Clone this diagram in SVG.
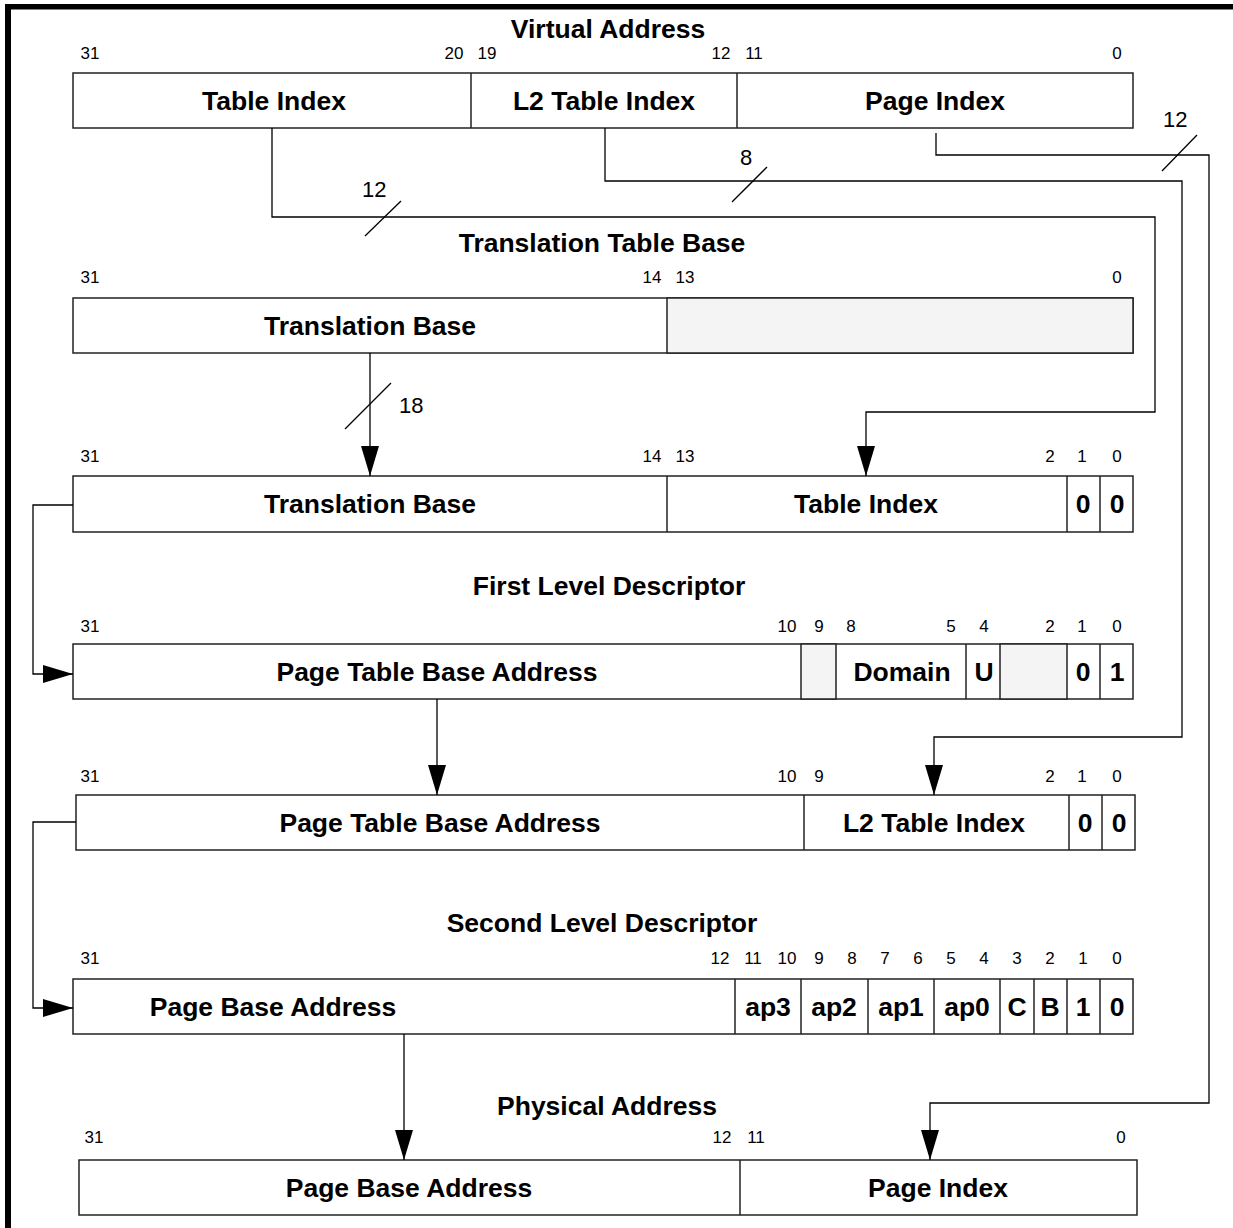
<svg xmlns="http://www.w3.org/2000/svg" width="1233" height="1228" viewBox="0 0 1233 1228">
<style>
.box{fill:#fff;stroke:#222;stroke-width:1.5}
.grey{fill:#f4f4f4;stroke:#222;stroke-width:1.5}
.div{stroke:#222;stroke-width:1.5}
.lbl{font-family:"Liberation Sans",Arial,sans-serif;font-weight:bold;font-size:26.5px;fill:#000;text-anchor:middle}
.ttl{font-family:"Liberation Sans",Arial,sans-serif;font-weight:bold;font-size:26.5px;fill:#000;text-anchor:middle}
.bit{font-family:"Liberation Sans",Arial,sans-serif;font-size:17px;fill:#000;text-anchor:middle}
.num{font-family:"Liberation Sans",Arial,sans-serif;font-size:22px;fill:#000}
.wire{fill:none;stroke:#000;stroke-width:1.3}
</style>
<defs>
<marker id="ah" markerUnits="userSpaceOnUse" markerWidth="30" markerHeight="18" viewBox="0 0 30 18" refX="30" refY="9" orient="auto">
<path d="M0,0 L30,9 L0,18 z" fill="#000"/>
</marker>
</defs>
<rect width="1233" height="1228" fill="#fff"/>
<rect x="5" y="4" width="1228" height="5.5" fill="#000"/>
<rect x="5" y="4" width="6" height="1224" fill="#000"/>

<g id="virtual-address">
<text class="ttl" x="608" y="38">Virtual Address</text>
<text class="bit" x="90" y="59">31</text>
<text class="bit" x="454" y="59">20</text>
<text class="bit" x="487" y="59">19</text>
<text class="bit" x="721" y="59">12</text>
<text class="bit" x="754" y="59">11</text>
<text class="bit" x="1117" y="59">0</text>
<rect class="box" x="73" y="73" width="1060" height="55"/>
<line class="div" x1="471" y1="73" x2="471" y2="128"/>
<line class="div" x1="737" y1="73" x2="737" y2="128"/>
<text class="lbl" x="274" y="110">Table Index</text>
<text class="lbl" x="604" y="110">L2 Table Index</text>
<text class="lbl" x="935" y="110">Page Index</text>
</g>

<g id="translation-table-base">
<text class="ttl" x="602" y="252">Translation Table Base</text>
<text class="bit" x="90" y="283">31</text>
<text class="bit" x="652" y="283">14</text>
<text class="bit" x="685" y="283">13</text>
<text class="bit" x="1117" y="283">0</text>
<rect class="box" x="73" y="298" width="1060" height="55"/>
<rect class="grey" x="667" y="298" width="466" height="55"/>
<text class="lbl" x="370" y="335">Translation Base</text>
</g>

<g id="first-level-address">
<text class="bit" x="90" y="462">31</text>
<text class="bit" x="652" y="462">14</text>
<text class="bit" x="685" y="462">13</text>
<text class="bit" x="1050" y="462">2</text>
<text class="bit" x="1082" y="462">1</text>
<text class="bit" x="1117" y="462">0</text>
<rect class="box" x="73" y="476" width="1060" height="56"/>
<line class="div" x1="667" y1="476" x2="667" y2="532"/>
<line class="div" x1="1067" y1="476" x2="1067" y2="532"/>
<line class="div" x1="1100" y1="476" x2="1100" y2="532"/>
<text class="lbl" x="370" y="513">Translation Base</text>
<text class="lbl" x="866" y="513">Table Index</text>
<text class="lbl" x="1083" y="513">0</text>
<text class="lbl" x="1117" y="513">0</text>
</g>

<g id="first-level-descriptor">
<text class="ttl" x="609" y="595">First Level Descriptor</text>
<text class="bit" x="90" y="632">31</text>
<text class="bit" x="787" y="632">10</text>
<text class="bit" x="819" y="632">9</text>
<text class="bit" x="851" y="632">8</text>
<text class="bit" x="951" y="632">5</text>
<text class="bit" x="984" y="632">4</text>
<text class="bit" x="1050" y="632">2</text>
<text class="bit" x="1082" y="632">1</text>
<text class="bit" x="1117" y="632">0</text>
<rect class="box" x="73" y="644" width="1060" height="55"/>
<rect class="grey" x="801" y="644" width="35" height="55"/>
<rect class="grey" x="1000" y="644" width="67" height="55"/>
<line class="div" x1="966" y1="644" x2="966" y2="699"/>
<line class="div" x1="1100" y1="644" x2="1100" y2="699"/>
<text class="lbl" x="437" y="681">Page Table Base Address</text>
<text class="lbl" x="902" y="681">Domain</text>
<text class="lbl" x="984" y="681">U</text>
<text class="lbl" x="1083" y="681">0</text>
<text class="lbl" x="1117" y="681">1</text>
</g>

<g id="second-level-address">
<text class="bit" x="90" y="782">31</text>
<text class="bit" x="787" y="782">10</text>
<text class="bit" x="819" y="782">9</text>
<text class="bit" x="1050" y="782">2</text>
<text class="bit" x="1082" y="782">1</text>
<text class="bit" x="1117" y="782">0</text>
<rect class="box" x="76" y="795" width="1059" height="55"/>
<line class="div" x1="804" y1="795" x2="804" y2="850"/>
<line class="div" x1="1069" y1="795" x2="1069" y2="850"/>
<line class="div" x1="1102" y1="795" x2="1102" y2="850"/>
<text class="lbl" x="440" y="832">Page Table Base Address</text>
<text class="lbl" x="934" y="832">L2 Table Index</text>
<text class="lbl" x="1085" y="832">0</text>
<text class="lbl" x="1119" y="832">0</text>
</g>

<g id="second-level-descriptor">
<text class="ttl" x="602" y="932">Second Level Descriptor</text>
<text class="bit" x="90" y="964">31</text>
<text class="bit" x="720" y="964">12</text>
<text class="bit" x="753" y="964">11</text>
<text class="bit" x="787" y="964">10</text>
<text class="bit" x="819" y="964">9</text>
<text class="bit" x="852" y="964">8</text>
<text class="bit" x="885" y="964">7</text>
<text class="bit" x="918" y="964">6</text>
<text class="bit" x="951" y="964">5</text>
<text class="bit" x="984" y="964">4</text>
<text class="bit" x="1017" y="964">3</text>
<text class="bit" x="1050" y="964">2</text>
<text class="bit" x="1083" y="964">1</text>
<text class="bit" x="1117" y="964">0</text>
<rect class="box" x="73" y="979" width="1060" height="55"/>
<line class="div" x1="735" y1="979" x2="735" y2="1034"/>
<line class="div" x1="801" y1="979" x2="801" y2="1034"/>
<line class="div" x1="868" y1="979" x2="868" y2="1034"/>
<line class="div" x1="934" y1="979" x2="934" y2="1034"/>
<line class="div" x1="1000" y1="979" x2="1000" y2="1034"/>
<line class="div" x1="1034" y1="979" x2="1034" y2="1034"/>
<line class="div" x1="1067" y1="979" x2="1067" y2="1034"/>
<line class="div" x1="1100" y1="979" x2="1100" y2="1034"/>
<text class="lbl" x="273" y="1016">Page Base Address</text>
<text class="lbl" x="768" y="1016">ap3</text>
<text class="lbl" x="834" y="1016">ap2</text>
<text class="lbl" x="901" y="1016">ap1</text>
<text class="lbl" x="967" y="1016">ap0</text>
<text class="lbl" x="1017" y="1016">C</text>
<text class="lbl" x="1050" y="1016">B</text>
<text class="lbl" x="1083" y="1016">1</text>
<text class="lbl" x="1117" y="1016">0</text>
</g>

<g id="physical-address">
<text class="ttl" x="607" y="1115">Physical Address</text>
<text class="bit" x="94" y="1143">31</text>
<text class="bit" x="722" y="1143">12</text>
<text class="bit" x="756" y="1143">11</text>
<text class="bit" x="1121" y="1143">0</text>
<rect class="box" x="79" y="1160" width="1058" height="55"/>
<line class="div" x1="740" y1="1160" x2="740" y2="1215"/>
<text class="lbl" x="409" y="1197">Page Base Address</text>
<text class="lbl" x="938" y="1197">Page Index</text>
</g>

<g id="connectors">
<path class="wire" d="M272,128 V217 H1155 V412 H866 V476" marker-end="url(#ah)"/>
<path class="wire" d="M605,128 V181 H1182 V737 H934 V795" marker-end="url(#ah)"/>
<path class="wire" d="M936,133 V155 H1209 V1103 H930 V1160" marker-end="url(#ah)"/>
<path class="wire" d="M370,353 V476" marker-end="url(#ah)"/>
<path class="wire" d="M73,505 H33 V674 H73" marker-end="url(#ah)"/>
<path class="wire" d="M437,699 V795" marker-end="url(#ah)"/>
<path class="wire" d="M76,822 H33 V1008 H73" marker-end="url(#ah)"/>
<path class="wire" d="M404,1034 V1160" marker-end="url(#ah)"/>
<line class="wire" x1="365" y1="236" x2="401" y2="201"/>
<line class="wire" x1="732" y1="202" x2="767" y2="167"/>
<line class="wire" x1="1162" y1="171" x2="1197" y2="135"/>
<line class="wire" x1="345" y1="429" x2="391" y2="383"/>
<text class="num" x="362" y="197">12</text>
<text class="num" x="740" y="165">8</text>
<text class="num" x="1163" y="127">12</text>
<text class="num" x="399" y="413">18</text>
</g>
</svg>
